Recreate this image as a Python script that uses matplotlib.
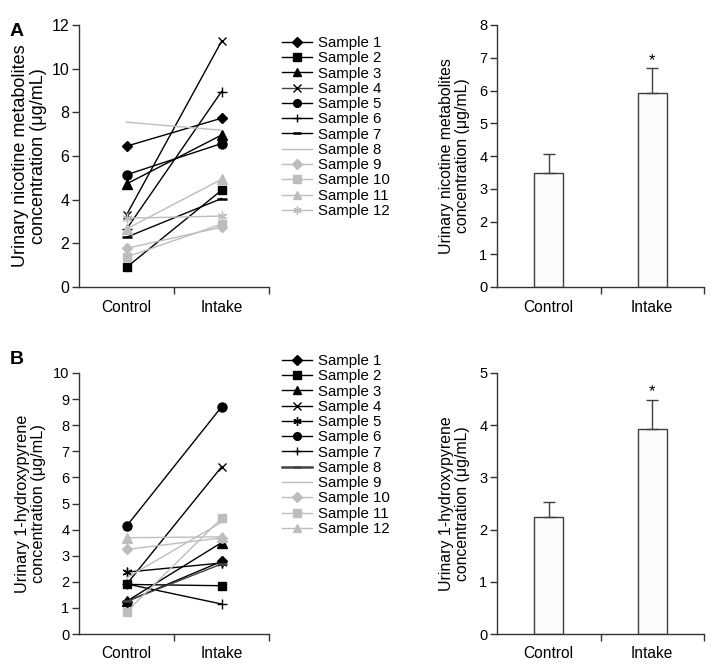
import matplotlib
matplotlib.use("Agg")
import matplotlib.pyplot as plt
from matplotlib.lines import Line2D

plt.rcParams['font.family'] = ['Liberation Sans', 'DejaVu Sans']

groups = ["Control", "Intake"]
samples = [f"Sample {i}" for i in range(1, 13)]

# Panel A: urinary nicotine metabolites (ug/mL)
ctrl_A = [6.45, 0.90, 4.72, 3.30, 5.14, 2.65, 2.28, 7.55, 1.77, 1.37, 2.66, 3.15]
int_A = [7.73, 4.43, 6.96, 11.25, 6.57, 8.95, 4.05, 7.18, 2.74, 2.88, 4.93, 3.25]
mean_A = [3.48, 5.92]
err_A = [0.58, 0.76]

# Panel B: urinary 1-hydroxypyrene (ug/mL)
ctrl_B = [1.24, 1.90, 1.25, 1.90, 2.37, 4.13, 1.92, 1.25, 2.15, 3.24, 0.85, 3.69]
int_B = [2.78, 1.85, 3.50, 6.40, 2.72, 8.70, 1.15, 2.68, 4.28, 3.68, 4.43, 3.72]
mean_B = [2.25, 3.93]
err_B = [0.27, 0.56]

BLK = "black"
LG = "#bdbdbd"
AST = (6, 2, 0)

style_A = [
    dict(c=BLK, m="D", ms=5.5), dict(c=BLK, m="s", ms=6), dict(c=BLK, m="^", ms=6.5),
    dict(c=BLK, m="x", ms=6, lc="#444444"), dict(c=BLK, m="o", ms=6.5), dict(c=BLK, m="+", ms=7),
    dict(c=BLK, m="_", ms=7, mew=1.8), dict(c=LG, m=None, ms=0), dict(c=LG, m="D", ms=5.5),
    dict(c=LG, m="s", ms=6), dict(c=LG, m="^", ms=6.5), dict(c=LG, m=AST, ms=7),
]
style_B = [
    dict(c=BLK, m="D", ms=5.5), dict(c=BLK, m="s", ms=6), dict(c=BLK, m="^", ms=6.5),
    dict(c=BLK, m="x", ms=6), dict(c=BLK, m=AST, ms=7), dict(c=BLK, m="o", ms=6.5),
    dict(c=BLK, m="+", ms=7), dict(c="#444444", m="_", ms=7, mew=1.8, lw=1.8),
    dict(c=LG, m=None, ms=0), dict(c=LG, m="D", ms=5.5), dict(c=LG, m="s", ms=6),
    dict(c=LG, m="^", ms=6.5),
]

W, H = 714, 666
fig = plt.figure(figsize=(W / 100, H / 100), dpi=100)
fig.patch.set_facecolor("white")


def ax_rect(l, t, r, b):
    return [l / W, 1 - b / H, (r - l) / W, (b - t) / H]


axL_A = fig.add_axes(ax_rect(79, 25, 269, 287))
axR_A = fig.add_axes(ax_rect(497, 25, 704, 287))
axL_B = fig.add_axes(ax_rect(79, 373, 269, 634))
axR_B = fig.add_axes(ax_rect(497, 373, 704, 634))

SPC = "#333333"


def style_axes(ax, ymax, ystep, tfs):
    ax.set_xlim(0, 2)
    ax.set_ylim(0, ymax)
    for s in ["top", "right"]:
        ax.spines[s].set_visible(False)
    for s in ["left", "bottom"]:
        ax.spines[s].set_color(SPC)
        ax.spines[s].set_linewidth(1.0)
    ax.set_yticks(range(0, ymax + 1, ystep))
    ax.set_xticks([1, 2])
    ax.set_xticklabels([])
    ax.set_xticks([0.5, 1.5], minor=True)
    ax.set_xticklabels(groups, minor=True, fontsize=11.2)
    ax.tick_params(axis="x", which="minor", length=0, pad=9)
    ax.tick_params(axis="x", which="major", length=5, width=1, color=SPC)
    ax.tick_params(axis="y", length=5, width=1, color=SPC, labelsize=tfs, pad=2)


def paired(ax, ctrl, intake, styles, ymax, ystep, tfs, ylabel, ylfs, labx, legtop):
    style_axes(ax, ymax, ystep, tfs)
    handles = []
    for i in range(len(ctrl)):
        st = styles[i]
        ax.plot([0.5, 1.5], [ctrl[i], intake[i]], color=st["c"], lw=1.0,
                marker=st["m"], ms=st["ms"], mew=st.get("mew", 1.0),
                mfc=st["c"], mec=st["c"], clip_on=False, zorder=3)
        handles.append(Line2D([0], [0], color=st.get("lc", st["c"]), lw=st.get("lw", 1.0),
                              marker=st["m"], ms=st["ms"] * 0.85, mew=st.get("mew", 1.0),
                              mfc=st["c"], mec=st["c"]))
    ax.set_ylabel(ylabel, fontsize=ylfs, linespacing=1.05)
    ax.yaxis.set_label_coords(labx, 0.5)
    fig.legend(handles, samples, loc="upper left",
               bbox_to_anchor=(282 / W, 1 - legtop / H), frameon=False,
               fontsize=10.8, handlelength=2.0, handletextpad=0.4,
               labelspacing=0.085, borderpad=0, borderaxespad=0)


def bars(ax, means, errs, ymax, ylabel, labx):
    style_axes(ax, ymax, 1, 10.5)
    ax.bar([0.5, 1.5], means, width=0.28, color="#fbfbfb", edgecolor="#404040",
           linewidth=1.0, zorder=2)
    ax.errorbar([0.5, 1.5], means, yerr=[[0, 0], errs], fmt="none",
                ecolor="#404040", elinewidth=1.0, capsize=4.5, capthick=1.0, zorder=3)
    ax.annotate("*", xy=(1.5, means[1] + errs[1]), xytext=(0, 0),
                textcoords="offset points", ha="center", va="bottom", fontsize=12)
    ax.set_ylabel(ylabel, fontsize=11.4, linespacing=1.05)
    ax.yaxis.set_label_coords(labx, 0.5)


paired(axL_A, ctrl_A, int_A, style_A, 12, 2, 11.5,
       "Urinary nicotine metabolites\nconcentration (\u03bcg/mL)", 13.0, -0.17, 36.0)
bars(axR_A, mean_A, err_A, 8,
     "Urinary nicotine metabolites\nconcentration (\u03bcg/mL)", -0.13)

paired(axL_B, ctrl_B, int_B, style_B, 10, 1, 10.5,
       "Urinary 1-hydroxypyrene\nconcentration (\u03bcg/mL)", 11.7, -0.175, 354.0)
bars(axR_B, mean_B, err_B, 5,
     "Urinary 1-hydroxypyrene\nconcentration (\u03bcg/mL)", -0.13)

fig.text(17 / W, 1 - 32 / H, "A", fontsize=14, fontweight="bold", ha="center", va="center")
fig.text(17 / W, 1 - 360 / H, "B", fontsize=14, fontweight="bold", ha="center", va="center")

fig.savefig("out.png", dpi=100, facecolor="white")
